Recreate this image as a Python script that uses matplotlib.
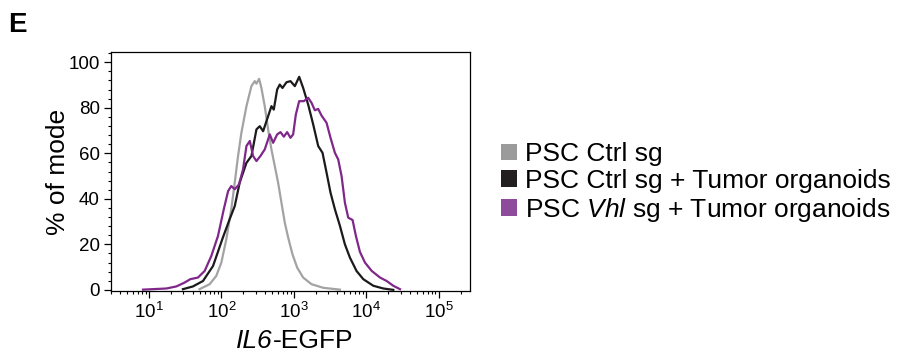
import matplotlib
matplotlib.use("Agg")
import matplotlib.pyplot as plt
from matplotlib.patches import Patch
from matplotlib.ticker import MultipleLocator, LogLocator, NullFormatter
from matplotlib.offsetbox import TextArea, HPacker, AnchoredOffsetbox
import numpy as np

plt.rcParams['font.family'] = ['Liberation Sans', 'DejaVu Sans']
plt.rcParams['mathtext.fontset'] = 'custom'
plt.rcParams['mathtext.rm'] = 'Liberation Sans'
plt.rcParams['mathtext.it'] = 'Liberation Sans:italic'

# ---- data (IL6-EGFP intensity, % of mode) ----
gray_x = [50, 69, 85, 100, 117, 137, 153, 170, 189, 222, 260, 289, 305, 332, 357,
          397, 442, 491, 546, 607, 675, 751, 835, 959, 1112, 1346, 1754, 2550, 4330]
gray_y = [0.3, 2.5, 6.1, 12.0, 22.2, 35.4, 47.1, 58.8, 69.0, 80.7, 89.5, 91.7, 90.6, 92.7, 88.7,
          80.7, 70.5, 61.7, 54.4, 47.1, 38.3, 29.5, 23.0, 15.6, 9.8, 5.4, 2.5, 0.9, 0.1]

black_x = [29.5, 40.5, 55.8, 76.8, 105, 130, 153, 179, 222, 260, 305, 339, 377, 442, 491,
           529, 589, 640, 697, 792, 899, 1033, 1186, 1346, 1578, 1850, 2170, 2490, 2830,
           3210, 3690, 4330, 5070, 5940, 7340, 9090, 12500, 17200, 23600]
black_y = [0.3, 1.5, 3.9, 10.5, 23.0, 31.0, 36.8, 47.1, 55.8, 58.8, 70.5, 71.9, 69.7, 76.3, 80.7,
           79.2, 88.0, 90.2, 88.7, 91.2, 91.7, 89.5, 93.6, 88.7, 81.4, 72.7, 63.2, 60.2, 51.5,
           42.7, 35.4, 28.1, 20.0, 14.2, 8.3, 4.7, 1.8, 0.6, 0.0]

purple_x = [8.3, 17.4, 23.9, 31.1, 37.3, 47.5, 58.8, 72.7, 89.9, 108, 124, 137, 153, 175, 199,
            222, 247, 274, 305, 346, 397, 466, 518, 589, 655, 728, 809, 899, 979, 1066, 1186,
            1374, 1578, 1754, 1950, 2170, 2410, 2830, 3210, 3690, 4100, 4560, 5070, 5640,
            6470, 7190, 8170, 9590, 11900, 15500, 19100, 23600, 29200]
purple_y = [0.1, 0.6, 1.5, 3.2, 4.7, 5.4, 8.3, 14.9, 23.7, 35.4, 43.4, 45.6, 44.2, 46.3, 52.9,
            63.2, 65.4, 58.8, 56.6, 58.8, 61.7, 68.3, 64.6, 68.3, 69.3, 67.3, 69.3, 66.8, 68.3,
            77.0, 82.9, 82.9, 84.4, 82.2, 78.9, 79.5, 76.6, 73.4, 66.8, 60.2, 57.3, 50.0, 38.3,
            31.7, 30.7, 23.7, 16.7, 12.0, 8.3, 5.4, 3.9, 1.8, 0.3]

labels = ["PSC Ctrl sg", "PSC Ctrl sg + Tumor organoids", "PSC $\\it{Vhl}$ sg + Tumor organoids"]
line_colors = ["#a3a3a3", "#1c1a1b", "#80278a"]
box_colors = ["#9b9b9b", "#231f20", "#8e4a9b"]

fig = plt.figure(figsize=(8.97, 3.58), dpi=100)
ax = fig.add_axes([111/897, 1-291/358, 359/897, 239/358])

ax.plot(gray_x, gray_y, color=line_colors[0], lw=1.6)
ax.plot(black_x, black_y, color=line_colors[1], lw=1.6)
ax.plot(purple_x, purple_y, color=line_colors[2], lw=1.6)

ax.set_xscale('log')
ax.set_xlim(3.0, 2.7e5)
ax.set_ylim(-0.5, 104.5)
ax.set_yticks([0, 20, 40, 60, 80, 100])
ax.yaxis.set_minor_locator(MultipleLocator(4))
ax.xaxis.set_major_locator(LogLocator(base=10, numticks=10))
ax.xaxis.set_minor_locator(LogLocator(base=10, subs=np.arange(2, 10), numticks=20))
ax.xaxis.set_minor_formatter(NullFormatter())

for s in ax.spines.values():
    s.set_linewidth(0.9)
ax.tick_params(axis='both', which='major', direction='out', length=5, width=0.9, labelsize=13.5, pad=3)
ax.tick_params(axis='both', which='minor', direction='out', length=2.5, width=0.8)

ax.set_ylabel("% of mode", fontsize=19, labelpad=-1)

# x label: italic gene name + upright "-EGFP"
xl = HPacker(children=[TextArea("IL6", textprops=dict(fontsize=19, fontstyle='italic')),
                       TextArea("-EGFP", textprops=dict(fontsize=19))],
             align="baseline", pad=0, sep=0)
fig.add_artist(AnchoredOffsetbox(loc='center', child=xl, frameon=False, pad=0, borderpad=0,
                                 bbox_to_anchor=(295/897, 1-341/358),
                                 bbox_transform=fig.transFigure))

fig.text(8/897, 1-32/358, "E", fontsize=20, fontweight='bold')

handles = [Patch(facecolor=c, edgecolor='none') for c in box_colors]
fig.legend(handles, labels, loc='center left', bbox_to_anchor=(501/897, 1-183/358),
           frameon=False, fontsize=19, handlelength=0.6, handleheight=0.6,
           handletextpad=0.3, labelspacing=0.1, borderpad=0, borderaxespad=0)

fig.savefig("out.png", dpi=100)
